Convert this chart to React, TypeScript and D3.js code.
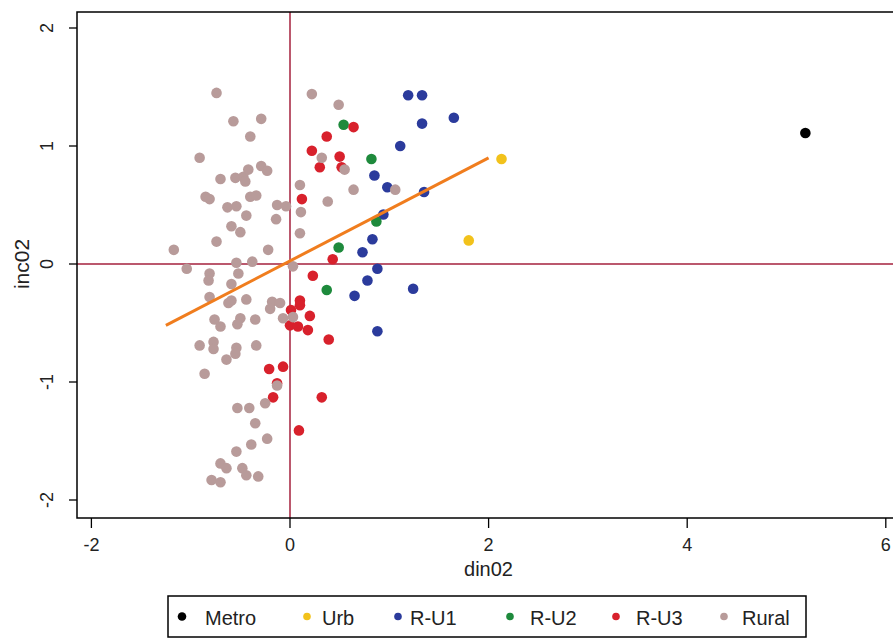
import React from 'react';
import * as d3 from 'd3';

const W = 893;
const H = 638;
const frame = { left: 77, right: 900, top: 12, bottom: 518 };

// group names and colours, drawn in this order (Rural on top)
const groups = ['Metro', 'Urb', 'R-U1', 'R-U2', 'R-U3', 'Rural'];
const colors = ['#000000', '#f2c21b', '#2b3b9c', '#1e8a3c', '#d8212c', '#b89b9a'];

const metroX = [5.19];
const metroY = [1.11];

const urbX = [2.13, 1.80];
const urbY = [0.89, 0.20];

const ru1X = [1.19, 1.33, 1.65, 1.33, 1.11, 0.85, 0.98, 1.35, 0.94, 0.83, 0.73, 0.88, 0.78, 0.65, 1.24, 0.88];
const ru1Y = [1.43, 1.43, 1.24, 1.19, 1.00, 0.75, 0.65, 0.61, 0.42, 0.21, 0.10, -0.04, -0.14, -0.27, -0.21, -0.57];

const ru2X = [0.54, 0.82, 0.87, 0.49, 0.37];
const ru2Y = [1.18, 0.89, 0.36, 0.14, -0.22];

const ru3X = [0.37, 0.64, 0.22, 0.30, 0.50, 0.52, 0.12, 0.43, 0.23, 0.10, 0.10, 0.01, 0.20, 0.00, 0.08, 0.18, 0.39, -0.21, -0.07, -0.13, -0.17, 0.32, 0.09];
const ru3Y = [1.08, 1.16, 0.96, 0.82, 0.91, 0.82, 0.55, 0.04, -0.10, -0.31, -0.35, -0.39, -0.44, -0.52, -0.53, -0.56, -0.64, -0.89, -0.87, -1.01, -1.13, -1.13, -1.41];

const ruralX = [
  -0.74, -0.57, -0.29, -0.40, -0.91, 0.22, 0.49, 0.32, -0.70, -0.55, -0.47, -0.42, -0.45, -0.29, -0.23,
  -0.85, -0.81, -0.40, -0.34, -0.63, -0.54, -0.13, -0.04, -0.44, -0.14, 0.10, 0.11, 0.38, -0.59, -0.50,
  -0.74, -1.17, -0.22, 0.10, -0.54, -0.38, -1.04, -0.81, -0.52, 0.03, 0.55, 0.64, 1.06, -0.82, -0.59,
  -0.81, -0.59, -0.62, -0.44, -0.18, -0.20, -0.10, -0.76, -0.70, -0.50, -0.53, -0.35, -0.07, 0.03, -0.91,
  -0.77, -0.77, -0.54, -0.55, -0.34, -0.64, -0.86, -0.13, -0.25, -0.53, -0.41, -0.35, -0.23, -0.39, -0.54,
  -0.70, -0.64, -0.48, -0.44, -0.32, -0.79, -0.70,
];
const ruralY = [
  1.45, 1.21, 1.23, 1.08, 0.90, 1.44, 1.35, 0.90, 0.72, 0.73, 0.74, 0.80, 0.70, 0.83, 0.79,
  0.57, 0.55, 0.57, 0.58, 0.48, 0.49, 0.50, 0.49, 0.41, 0.38, 0.67, 0.44, 0.53, 0.32, 0.27,
  0.19, 0.12, 0.12, 0.26, 0.01, 0.02, -0.04, -0.08, -0.08, -0.02, 0.80, 0.63, 0.63, -0.14, -0.17,
  -0.28, -0.31, -0.33, -0.30, -0.32, -0.38, -0.33, -0.47, -0.53, -0.46, -0.51, -0.47, -0.46, -0.45, -0.69,
  -0.66, -0.72, -0.71, -0.76, -0.69, -0.81, -0.93, -1.03, -1.18, -1.22, -1.22, -1.35, -1.48, -1.53, -1.59,
  -1.69, -1.73, -1.73, -1.79, -1.80, -1.83, -1.85,
];

// fitted line end points
const fitX = [-1.25, 2.0];
const fitY = [-0.52, 0.9];

const xTicks = [-2, 0, 2, 4, 6];
const yTicks = [-2, -1, 0, 1, 2];

const seriesX = [metroX, urbX, ru1X, ru2X, ru3X, ruralX];
const seriesY = [metroY, urbY, ru1Y, ru2Y, ru3Y, ruralY];

const font = '"Liberation Sans", Arial, sans-serif';

export default function App() {
  const x = d3.scaleLinear().domain([-2, 6]).range([91.4, 885.8]);
  const y = d3.scaleLinear().domain([-2, 2]).range([500, 28]);
  const line = d3.line<[number, number]>().x(d => x(d[0])).y(d => y(d[1]));
  const fitPts: [number, number][] = fitX.map((v, i) => [v, fitY[i]]);

  // legend layout
  const markX = [182, 307, 398, 510, 616, 724];
  const textX = [205, 322, 410, 530, 636, 742];
  const legendY = 616.5;

  return (
    <svg width={W} height={H} style={{ position: 'absolute', left: 0, top: 0, background: '#fff' }} fontFamily={font} fill="#222">
      <rect x={0} y={0} width={W} height={H} fill="#fff" />

      {/* reference lines at zero */}
      <line x1={x(0)} x2={x(0)} y1={frame.top} y2={frame.bottom} stroke="#a4213c" strokeWidth={1.5} />
      <line x1={frame.left} x2={frame.right} y1={y(0)} y2={y(0)} stroke="#a4213c" strokeWidth={1.5} />

      {/* points */}
      {groups.map((g, gi) => (
        <g key={g} fill={colors[gi]}>
          {seriesX[gi].map((v, i) => (
            <circle key={i} cx={x(v)} cy={y(seriesY[gi][i])} r={5.3} />
          ))}
        </g>
      ))}

      {/* fitted line */}
      <path d={line(fitPts) || ''} fill="none" stroke="#f07d1e" strokeWidth={3} />

      {/* frame */}
      <rect x={frame.left} y={frame.top} width={frame.right - frame.left} height={frame.bottom - frame.top}
        fill="none" stroke="#000" strokeWidth={1.5} />

      {/* x axis */}
      {xTicks.map(t => (
        <g key={t} transform={`translate(${x(t)},0)`}>
          <line y1={frame.bottom} y2={frame.bottom + 10} stroke="#000" strokeWidth={1.3} />
          <text y={551} textAnchor="middle" fontSize={18}>{t}</text>
        </g>
      ))}
      <text x={(frame.left + frame.right) / 2} y={576} textAnchor="middle" fontSize={20}>din02</text>

      {/* y axis */}
      {yTicks.map(t => (
        <g key={t} transform={`translate(0,${y(t)})`}>
          <line x1={frame.left - 8} x2={frame.left} stroke="#000" strokeWidth={1.3} />
          <text transform={`translate(53,0) rotate(-90)`} textAnchor="middle" fontSize={18}>{t}</text>
        </g>
      ))}
      <text transform={`translate(29,${y(0)}) rotate(-90)`} textAnchor="middle" fontSize={21}>inc02</text>

      {/* legend */}
      <rect x={168} y={596} width={638} height={41} fill="#fff" stroke="#000" strokeWidth={1.5} />
      {groups.map((g, gi) => (
        <g key={g}>
          <circle cx={markX[gi]} cy={legendY} r={gi === 0 ? 4.3 : 3.8} fill={colors[gi]} />
          <text x={textX[gi]} y={625} fontSize={20}>{g}</text>
        </g>
      ))}
    </svg>
  );
}
